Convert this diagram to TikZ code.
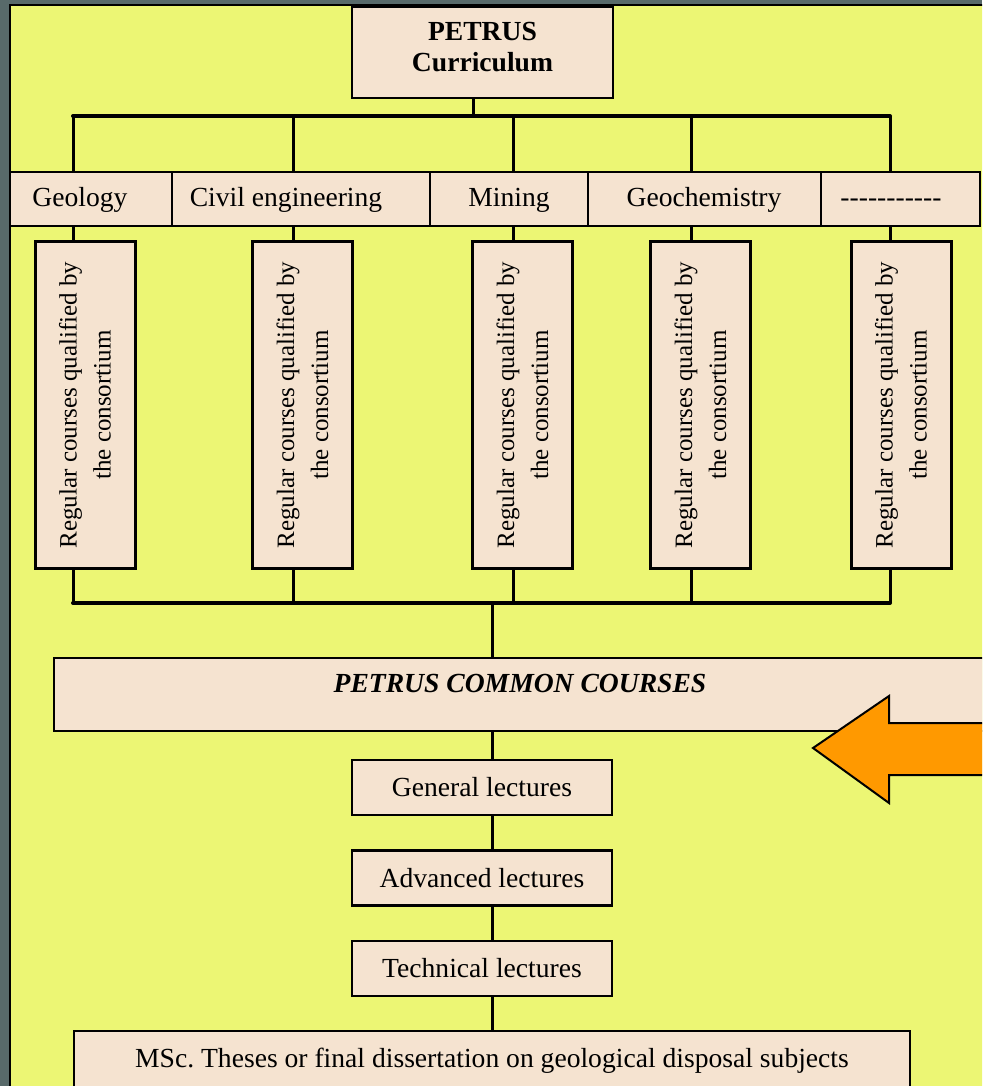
\documentclass[tikz,border=0pt]{standalone}
\usepackage{fontspec}
\setmainfont{Liberation Serif}
\definecolor{bgdark}{RGB}{88,106,106}
\definecolor{panel}{RGB}{236,246,116}
\definecolor{boxfill}{RGB}{245,227,208}
\definecolor{arroworange}{RGB}{255,153,0}
\begin{document}
\begin{tikzpicture}[x=1pt,y=-1pt,
  box/.style={draw=black, line width=2.5pt, fill=boxfill, inner sep=0pt, outer sep=0pt},
  cell/.style={box, line width=2pt, minimum height=54pt},
  vbox/.style={box, line width=3pt, rotate=90, minimum width=327pt, minimum height=100pt,
    align=center, font=\fontsize{25}{34}\selectfont},
  lect/.style={box, minimum width=260pt, minimum height=55pt, font=\fontsize{27.6}{32}\selectfont},
  lbl/.style={inner sep=0pt, font=\fontsize{27.6}{32}\selectfont, anchor=base},
  conn/.style={line width=3pt, draw=black},
  bus/.style={line width=4pt, draw=black, line cap=round}]
\useasboundingbox (0,0) rectangle (982,1086);
\clip (0,0) rectangle (982,1086);
\fill[bgdark] (0,0) rectangle (982,1086);
\filldraw[fill=panel, draw=black, line width=2pt] (10,5) rectangle (1000,1100);

% top box
\node[box, minimum width=261pt, minimum height=91pt] (top) at (482.5,52.5) {};
\node[inner sep=0pt, align=center, font=\bfseries\fontsize{27.6}{31}\selectfont] (toptxt) at (482.5,47) {PETRUS\\Curriculum};

% category row
\node[cell, minimum width=162pt] (c1) at (91,199) {};
\node[cell, minimum width=258pt] (c2) at (301,199) {};
\node[cell, minimum width=158pt] (c3) at (509,199) {};
\node[cell, minimum width=233pt] (c4) at (704.5,199) {};
\node[cell, minimum width=159pt] (c5) at (900.5,199) {};
\node[lbl] (t1) at (80,206) {Geology};
\node[lbl] (t2) at (286,206) {Civil engineering};
\node[lbl] (t3) at (509,206) {Mining};
\node[lbl] (t4) at (704,206) {Geochemistry};
\node[lbl] (t5) at (891,206) {-{}-{}-{}-{}-{}-{}-{}-{}-{}-{}-};

% vertical boxes
\node[vbox] (v1) at (85,405) {Regular courses qualified by\\the consortium};
\node[vbox] (v2) at (302.5,405) {Regular courses qualified by\\the consortium};
\node[vbox] (v3) at (522.5,405) {Regular courses qualified by\\the consortium};
\node[vbox] (v4) at (700.5,405) {Regular courses qualified by\\the consortium};
\node[vbox] (v5) at (901,405) {Regular courses qualified by\\the consortium};

% common courses
\node[box, minimum width=946pt, minimum height=73pt] (common) at (527,694.5) {};
\node[inner sep=0pt, anchor=base, font=\bfseries\itshape\fontsize{27.6}{32}\selectfont] (commontxt) at (520,692) {PETRUS COMMON COURSES};

% lectures
\node[lect] (gen) at (482,787.5) {General lectures};
\node[lect] (adv) at (482,878) {Advanced lectures};
\node[lect] (tec) at (482,968.5) {Technical lectures};
\node[box, minimum width=836pt, minimum height=59pt, font=\fontsize{27.6}{32}\selectfont] (msc) at (492,1060.5) {MSc.\ Theses or final dissertation on geological disposal subjects};

% connector coordinates
\coordinate (topstub) at (473,0);
\coordinate (s1) at (73,0);
\coordinate (s2) at (293,0);
\coordinate (s3) at (513,0);
\coordinate (s4) at (691,0);
\coordinate (s5) at (890,0);
\coordinate (bustop) at (0,116);
\coordinate (busbot) at (0,603);
\coordinate (spine) at (492,0);

% top bus
\draw[conn] (top.south -| topstub) -- (topstub |- bustop);
\draw[bus] (s1 |- bustop) -- (s5 |- bustop);
\foreach \s/\v in {s1/v1,s2/v2,s3/v3,s4/v4,s5/v5}{
  \draw[conn] (\s |- bustop) -- (\s |- c1.north);
  \draw[conn] (\s |- c1.south) -- (\s |- \v.east);
  \draw[conn] (\s |- \v.west) -- (\s |- busbot);
}
\draw[bus] (s1 |- busbot) -- (s5 |- busbot);
\draw[conn] (spine |- busbot) -- (spine |- common.north);
\draw[conn] (spine |- common.south) -- (spine |- gen.north);
\draw[conn] (spine |- gen.south) -- (spine |- adv.north);
\draw[conn] (spine |- adv.south) -- (spine |- tec.north);
\draw[conn] (spine |- tec.south) -- (spine |- msc.north);

% orange arrow
\filldraw[fill=arroworange, draw=black, line width=2pt, line join=miter]
  (813,748) -- (889,696) -- (889,723) -- (1000,723) -- (1000,775) -- (889,775) -- (889,803) -- cycle;
\end{tikzpicture}
\end{document}
